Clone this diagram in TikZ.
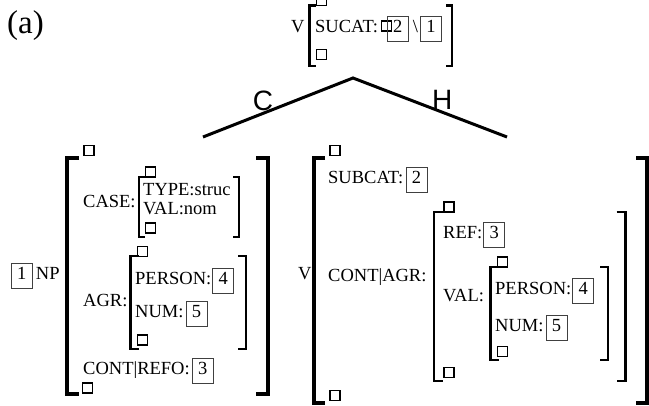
\documentclass[tikz,border=0pt]{standalone}
\usepackage{fontspec}
\setmainfont{Liberation Serif}
\newfontfamily\arcfont{Liberation Sans}
\usetikzlibrary{positioning, calc}

\tikzset{
  feat/.style={anchor=base west, inner sep=0pt, font=\fontsize{18.5}{20}\selectfont},
  tagbox/.style={draw=black!75, line width=0.7pt, anchor=base west, inner xsep=0pt, inner ysep=4pt,
                 minimum width=21pt, text height=13pt, text depth=4pt, font=\fontsize{18.5}{20}\selectfont},
  sq/.style={draw, line width=1.5pt, minimum size=10pt, inner sep=0pt},
  brk/.style={line width=2.7pt},
  bigbrk/.style={line width=4pt},
  tree/.style={line width=3pt},
  arclbl/.style={font=\arcfont\fontsize{28}{30}\selectfont, inner sep=1.5pt, above}
}

% left x, top y, right x, bottom y, arm, style
\newcommand{\avmbrk}[6]{%
  \draw[#6] ({#1+#5},#2) -| (#1,#4) -- ({#1+#5},#4);
  \draw[#6] ({#3-#5},#2) -| (#3,#4) -- ({#3-#5},#4);
}

\begin{document}
\begin{tikzpicture}[x=1pt, y=-1pt]
    \useasboundingbox (0,0) rectangle (649,406);

    \node[anchor=base west, inner sep=0pt, font=\fontsize{33}{36}\selectfont] (lblA) at (7,34) {(a)};

    % mother
    \node[feat] (vTop) at (291,33) {V};
    \avmbrk{309.5}{5.5}{452}{66}{6}{brk}
    \node[sq] (sqTopA) at (321.5,0.5) {};
    \node[sq] (sqTopB) at (321.5,54.5) {};
    \node[feat] (fSucat) at (315,33) {SUCAT:};
    \node[sq] (sqInl) at (386.5,26) {};
    \node[tagbox] (tTopTwo) at (387,33) {2};
    \node[feat] (bslash) at ([xshift=4pt]tTopTwo.base east) {\textbackslash};
    \node[tagbox] (tTopOne) at ([xshift=2pt]bslash.base east) {1};

    % branches
    \coordinate (apex) at (353,78);
    \coordinate (cEnd) at (203,137);
    \coordinate (hEnd) at (507,137);
    \draw[tree] (cEnd) -- node[arclbl, pos=0.4] (lblC) {C} (apex)
                -- node[arclbl, pos=0.58] (lblH) {H} (hEnd);

    % complement
    \node[tagbox] (tagOne) at (11,280) {1};
    \node[feat] (np) at ([xshift=3pt]tagOne.base east) {NP};
    \avmbrk{67}{158}{268}{394}{12}{bigbrk}
    \node[sq] (sqNpA) at (89,150.5) {};
    \node[sq] (sqNpB) at (87.5,388) {};
    \node[feat] (fCase) at (83,208) {CASE:};
    \avmbrk{139}{177}{239}{237}{6}{brk}
    \node[sq] (sqCaseA) at (150.5,172) {};
    \node[sq] (sqCaseB) at (150.5,228) {};
    \node[feat] (fType) at (143,196) {TYPE:struc};
    \node[feat] (fVal) at (143,215) {VAL:nom};
    \node[feat] (fAgr) at (83,307) {AGR:};
    \avmbrk{130.5}{256}{246}{349}{8}{brk}
    \node[sq] (sqAgrA) at (142.5,251.5) {};
    \node[sq] (sqAgrB) at (142.5,340) {};
    \node[feat] (fPers) at (135,285) {PERSON:};
    \node[tagbox] (tagFour) at ([xshift=1pt]fPers.base east) {4};
    \node[feat] (fNum) at (135,318) {NUM:};
    \node[tagbox] (tagFive) at ([xshift=2pt]fNum.base east) {5};
    \node[feat] (fRefo) at (83,375) {CONT|REFO:};
    \node[tagbox] (tagThree) at ([xshift=2pt]fRefo.base east) {3};

    % head
    \node[feat] (vHead) at (298,280) {V};
    \avmbrk{314}{158}{647}{403}{11}{bigbrk}
    \node[sq] (sqHdA) at (335,150.5) {};
    \node[sq] (sqHdB) at (335,395.5) {};
    \node[feat] (fSubcat) at (328,184) {SUBCAT:};
    \node[tagbox] (tagTwoB) at ([xshift=2pt]fSubcat.base east) {2};
    \node[feat] (fCont) at (328,282) {CONT|AGR:};
    \avmbrk{434}{212}{625.5}{381}{9}{brk}
    \node[sq] (sqContA) at (449,207) {};
    \node[sq] (sqContB) at (449,372.5) {};
    \node[feat] (fRef) at (443,239) {REF:};
    \node[tagbox] (tagThreeB) at ([xshift=1pt]fRef.base east) {3};
    \node[feat] (fValB) at (443,302) {VAL:};
    \avmbrk{490.5}{267}{608}{360}{8}{brk}
    \node[sq] (sqValA) at (502.5,262) {};
    \node[sq] (sqValB) at (502.5,351.5) {};
    \node[feat] (fPersB) at (495,295) {PERSON:};
    \node[tagbox] (tagFourB) at ([xshift=1pt]fPersB.base east) {4};
    \node[feat] (fNumB) at (495,332) {NUM:};
    \node[tagbox] (tagFiveB) at ([xshift=2pt]fNumB.base east) {5};
\end{tikzpicture}
\end{document}
